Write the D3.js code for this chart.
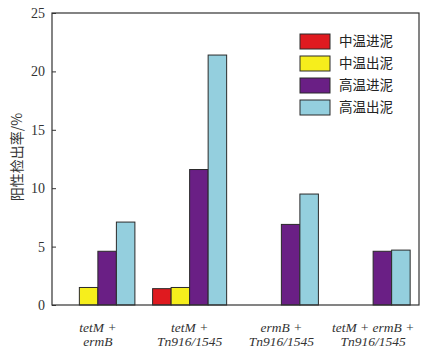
<!DOCTYPE html>
<html>
<head>
<meta charset="utf-8">
<script src="https://cdn.jsdelivr.net/npm/d3@7"></script>
<style>
  body { margin: 0; background: #fff; }
</style>
</head>
<body>
<script>
// 基因组合（两行显示）
const categories = ["tetM + ermB", "tetM + Tn916/1545", "ermB + Tn916/1545", "tetM + ermB + Tn916/1545"];
const catLines = [
  ["tetM +", "ermB"],
  ["tetM +", "Tn916/1545"],
  ["ermB +", "Tn916/1545"],
  ["tetM + ermB +", "Tn916/1545"]
];
const seriesNames = ["中温进泥", "中温出泥", "高温进泥", "高温出泥"];
const midIn   = [0, 1.4, 0, 0];
const midOut  = [1.5, 1.5, 0, 0];
const highIn  = [4.6, 11.6, 6.9, 4.6];
const highOut = [7.1, 21.4, 9.5, 4.7];
const yTicks = [0, 5, 10, 15, 20, 25];
const colors = ["#df1a1f", "#f6ee1c", "#6a1f85", "#94cfde"];

const seriesValues = [midIn, midOut, highIn, highOut];

const width = 430, height = 348;
const margin = {top: 13, right: 11, bottom: 43, left: 52};
const w = width - margin.left - margin.right;
const h = height - margin.top - margin.bottom;

const svg = d3.select("body").append("svg")
    .attr("width", width)
    .attr("height", height);

const g = svg.append("g")
    .attr("transform", `translate(${margin.left},${margin.top})`);

const x0 = d3.scaleBand()
    .domain(categories)
    .range([0, w])
    .paddingInner(0.193)
    .paddingOuter(0.0965);

const x1 = d3.scaleBand()
    .domain(seriesNames)
    .range([0, x0.bandwidth()]);

const y = d3.scaleLinear()
    .domain([0, 25])
    .range([h, 0]);

// 柱
const rows = [];
categories.forEach((c, i) => {
  seriesNames.forEach((s, j) => {
    rows.push({cat: c, name: s, value: seriesValues[j][i], color: colors[j]});
  });
});

g.append("g")
  .selectAll("rect")
  .data(rows.filter(d => d.value > 0))
  .join("rect")
    .attr("x", d => x0(d.cat) + x1(d.name))
    .attr("y", d => y(d.value))
    .attr("width", x1.bandwidth())
    .attr("height", d => h - y(d.value))
    .attr("fill", d => d.color)
    .attr("stroke", "#2a2a2a")
    .attr("stroke-width", 1);

// 纵轴
const yAxis = g.append("g")
    .call(d3.axisLeft(y).tickValues(yTicks).tickSizeInner(-4).tickSizeOuter(0).tickPadding(7));
yAxis.select(".domain").remove();
yAxis.selectAll("line").attr("stroke", "#333");
yAxis.selectAll("text")
    .attr("font-family", "'Liberation Serif', 'DejaVu Serif', serif")
    .attr("font-size", 14)
    .attr("fill", "#333");

// 外框
g.append("rect")
    .attr("width", w)
    .attr("height", h)
    .attr("fill", "none")
    .attr("stroke", "#333")
    .attr("stroke-width", 1.2);

// 横轴标签
const xl = g.append("g")
  .selectAll("text")
  .data(categories)
  .join("text")
    .attr("text-anchor", "middle")
    .attr("font-family", "'Liberation Serif', 'DejaVu Serif', serif")
    .attr("font-style", "italic")
    .attr("font-size", 13.5)
    .attr("fill", "#333")
    .attr("transform", d => `translate(${x0(d) + x0.bandwidth() / 2},0)`);

xl.selectAll("tspan")
  .data((d, i) => catLines[i])
  .join("tspan")
    .attr("x", 0)
    .attr("y", (d, i) => h + 27 + i * 13.5)
    .text(d => d);

// 纵轴标题
svg.append("text")
    .attr("transform", `translate(22,${margin.top + h / 2 - 2}) rotate(-90)`)
    .attr("text-anchor", "middle")
    .attr("font-family", "'Noto Sans CJK SC', sans-serif")
    .attr("font-size", 14)
    .attr("fill", "#333")
    .text("阳性检出率/%");

// 图例
const legend = g.append("g")
    .attr("transform", `translate(${300 - margin.left},${34 - margin.top})`);

const item = legend.selectAll("g")
  .data(seriesNames)
  .join("g")
    .attr("transform", (d, i) => `translate(0,${i * 22})`);

item.append("rect")
    .attr("width", 30)
    .attr("height", 15)
    .attr("fill", (d, i) => colors[i])
    .attr("stroke", "#2a2a2a");

item.append("text")
    .attr("x", 39)
    .attr("y", 7.5)
    .attr("dy", "0.36em")
    .attr("font-family", "'Noto Sans CJK SC', sans-serif")
    .attr("font-size", 13.5)
    .attr("fill", "#222")
    .text(d => d);
</script>
</body>
</html>
